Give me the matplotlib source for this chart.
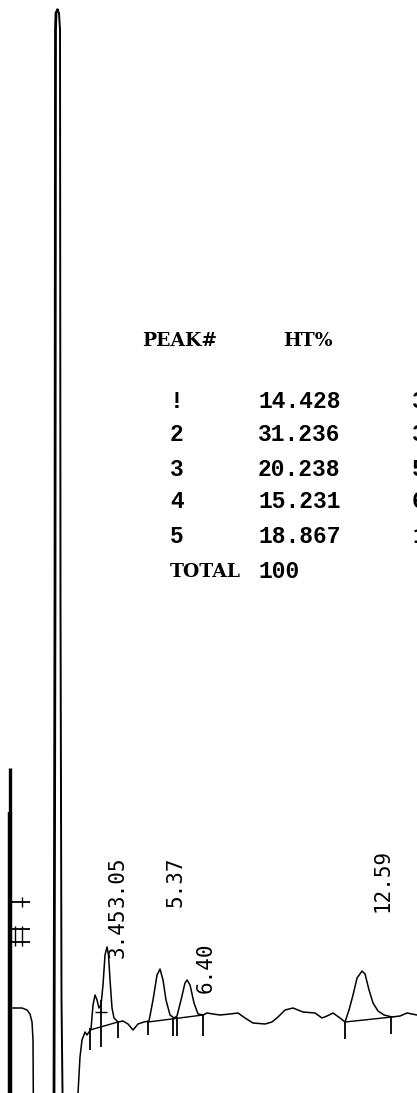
import matplotlib
matplotlib.use("Agg")
from matplotlib import pyplot as plt
import numpy as np

# chromatogram trace, time in minutes, response in chart units (0 = paper bottom)
trace_t = [2.452, 2.523, 2.595, 2.702, 2.773, 2.844, 2.915, 2.987, 3.058, 3.129,
           3.200, 3.272, 3.343, 3.414, 3.486, 3.539, 3.593, 3.664, 3.735, 3.878,
           4.056, 4.234, 4.412, 4.590, 4.804, 4.982, 5.125, 5.268, 5.375, 5.481,
           5.588, 5.731, 5.873, 5.980, 6.123, 6.265, 6.337, 6.444, 6.586, 6.729,
           6.907, 7.050, 7.263, 7.513, 7.869, 8.155, 8.404, 8.689, 9.117, 9.366,
           9.580, 9.829, 10.114, 10.471, 10.899, 11.148, 11.326, 11.540, 11.790, 11.968,
           12.110, 12.253, 12.396, 12.574, 12.681, 12.823, 12.966, 13.144, 13.358, 13.643,
           13.928, 14.177, 14.534]
trace_r = [0, 36, 53, 61, 58, 61, 64, 88, 98, 93,
           85, 88, 108, 138, 146, 138, 113, 85, 75, 71,
           72, 69, 63, 69, 71, 72, 93, 118, 124, 113,
           93, 78, 75, 77, 93, 110, 113, 108, 90, 79,
           78, 80, 79, 78, 79, 80, 75, 70, 69, 71,
           76, 83, 85, 81, 80, 75, 77, 80, 75, 71,
           83, 98, 115, 122, 119, 103, 90, 82, 78, 76,
           77, 80, 78]

# solvent peak (off scale)
solvent_t = [1.597, 1.632, 1.650, 1.668, 1.722, 1.775, 1.811, 1.828, 1.864, 1.900]
solvent_r = [0, 493, 1063, 1080, 1083, 1080, 1063, 493, 93, 0]

# previous channel tail next to the injection mark
tail_t = [0.135, 0.456, 0.634, 0.741, 0.813, 0.848, 0.859]
tail_r = [85, 85, 83, 79, 71, 53, 0]

# drawn baselines under integrated peaks
base_t0 = [2.880, 4.947, 11.968]
base_t1 = [3.878, 6.907, 13.643]
base_r0 = [63, 71, 71]
base_r1 = [71, 78, 76]

# peak start/stop marks
mark_t = [2.880, 3.272, 3.878, 4.947, 5.838, 5.980, 6.907, 11.968, 13.607]
mark_top = [65, 93, 71, 71, 75, 76, 78, 71, 76]
mark_bot = [43, 46, 55, 58, 57, 57, 57, 54, 59]

# event marks on the injection line
event_r = [191, 164, 151]
event_tick_t = [0.456, 0.207, 0.456]
event_tick_r0 = [186, 147, 147]
event_tick_r1 = [196, 167, 167]

# retention time labels printed on the trace
rt_labels = ["3.05", "3.45", "5.37", "6.40", "12.59"]
rt_label_t = [3.878, 3.878, 5.909, 7.014, 13.286]
rt_label_r = [186, 135, 186, 100, 181]

# report table
peak_ids = ["!", "2", "3", "4", "5", "TOTAL"]
ht_pct = ["14.428", "31.236", "20.238", "15.231", "18.867", "100"]
rt_col = ["3.05", "3.45", "5.37", "6.40", "12.59", ""]

W, H = 417, 1093
fig = plt.figure(figsize=(W / 100, H / 100), dpi=100)
ax = fig.add_axes([0, 0, 1, 1])
ax.set_xlim(-0.328, 14.533)
ax.set_ylim(0, H)
ax.axis("off")

ink = "black"
ax.plot(trace_t, trace_r, color=ink, lw=1.1, solid_joinstyle="round")
ax.plot(solvent_t[:5], solvent_r[:5], color=ink, lw=2.0)
ax.plot(solvent_t[4:], solvent_r[4:], color=ink, lw=1.4)
ax.plot(tail_t, tail_r, color=ink, lw=1.1)

for t0, t1, r0, r1 in zip(base_t0, base_t1, base_r0, base_r1):
    ax.plot([t0, t1], [r0, r1], color=ink, lw=1.0)
ax.vlines(mark_t, mark_bot, mark_top, color=ink, lw=1.3)
ax.hlines([81], 3.058, 3.486, color=ink, lw=1.0)

# injection mark
ax.vlines([0.04], 0, 281, color=ink, lw=3.2)
ax.vlines([0.03], 281, 325, color=ink, lw=2.4)
ax.hlines(event_r, 0.10, 0.741, color=ink, lw=1.3)
ax.vlines(event_tick_t, event_tick_r0, event_tick_r1, color=ink, lw=1.0)

for lab, t, r in zip(rt_labels, rt_label_t, rt_label_r):
    ax.text(t, r, lab, rotation=90, ha="center", va="bottom",
            family="DejaVu Sans Mono", fontsize=15, color=ink)

# table
head_font = dict(family="DejaVu Serif", fontweight="bold", fontsize=13.5, color=ink)
num_font = dict(family="Liberation Mono", fontweight="bold", fontsize=16.5, color=ink)
fig.text(142 / W, 1 - 341 / H, "PEAK#", va="center", **head_font)
fig.text(283 / W, 1 - 341 / H, "HT%", va="center", **head_font)
row_y = [401, 434, 469, 502, 537, 572]
for i, (pid, ht, rt) in enumerate(zip(peak_ids, ht_pct, rt_col)):
    y = 1 - row_y[i] / H
    if pid == "TOTAL":
        fig.text(170 / W, y, pid, va="center", **head_font)
    else:
        fig.text(170 / W, y, pid, va="center", **num_font)
    fig.text(258 / W, y, ht, va="center", **num_font)
    fig.text(412 / W, y, rt, va="center", **num_font)

fig.savefig("out.png", dpi=100)
